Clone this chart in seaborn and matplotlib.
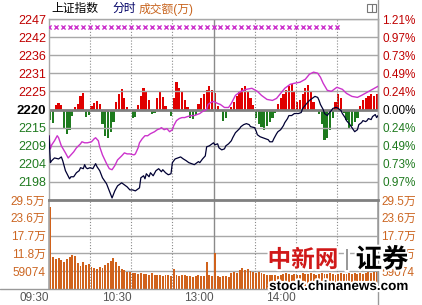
import matplotlib
matplotlib.use("Agg")
import matplotlib.pyplot as plt
import matplotlib.patheffects as pe
from matplotlib.patches import Rectangle
from matplotlib.lines import Line2D
import numpy as np
import pandas as pd
import seaborn as sns

# ---------------- data ----------------
prev_close = 2220.0
pct_step = 0.2424          # percent per grid step
price_tick_labels = ["2247", "2242", "2236", "2231", "2225", "2220", "2215", "2209", "2204", "2198"]
pct_tick_labels = ["1.21%", "0.97%", "0.73%", "0.49%", "0.24%", "0.00%", "0.24%", "0.49%", "0.73%", "0.97%"]
vol_tick_values = [5.9074, 11.8148, 17.7222, 23.6296, 29.537]   # unit: 万
vol_tick_labels = ["59074", "11.8万", "17.7万", "23.6万", "29.5万"]
time_minutes = [0, 60, 120, 180]
time_labels = ["09:30", "10:30", "13:00", "14:00"]

# 上证指数 (black line)
index_min = [0, 1, 2, 4, 7, 9, 10, 12, 15, 16, 18, 20, 22, 23, 25, 26, 27, 28, 30, 32,
             34, 35, 37, 39, 42, 44, 46, 48, 50, 53, 55, 57, 59, 61, 63, 66, 67, 69, 70, 71,
             73, 74, 76, 78, 80, 82, 83, 85, 87, 89, 90, 92, 94, 96, 98, 100, 102, 104, 106, 109,
             110, 112, 114, 115, 117, 120, 121, 123, 124, 126, 128, 129, 131, 133, 134, 136, 139, 140, 142, 144,
             146, 147, 150, 151, 152, 154, 156, 158, 160, 161, 163, 164, 166, 167, 169, 171, 172, 174, 175, 177,
             179, 180, 182, 184, 185, 188, 190, 193, 194, 196, 197, 198, 200, 201, 203, 204, 206, 207, 209, 210,
             212, 213, 214, 216, 217, 219, 220, 222, 223, 225, 226, 228, 229, 231, 232, 233, 235, 236, 238, 239, 240]
index_val = [2212.2, 2204.2, 2204.8, 2205.6, 2205.3, 2205.9, 2204.8, 2201.8, 2199.4, 2200.0,
             2200.0, 2201.2, 2201.8, 2202.7, 2202.4, 2203.6, 2202.7, 2202.4, 2202.7, 2202.4,
             2203.9, 2203.0, 2201.8, 2199.7, 2197.9, 2195.8, 2193.7, 2195.8, 2197.3, 2198.2,
             2197.6, 2197.0, 2196.1, 2196.1, 2195.8, 2196.7, 2199.7, 2200.3, 2199.4, 2200.9,
             2200.0, 2201.2, 2200.3, 2201.8, 2202.4, 2201.5, 2202.1, 2201.2, 2200.6, 2200.9,
             2204.2, 2205.3, 2205.6, 2205.9, 2205.3, 2204.8, 2204.2, 2203.9, 2203.6, 2204.5,
             2204.2, 2205.3, 2206.2, 2208.9, 2209.2, 2210.1, 2209.5, 2209.8, 2208.6, 2208.0,
             2208.3, 2209.2, 2209.8, 2210.7, 2211.6, 2213.1, 2214.3, 2214.9, 2215.5, 2215.8,
             2215.5, 2214.9, 2214.6, 2213.7, 2212.5, 2211.9, 2211.6, 2211.3, 2211.0, 2210.4,
             2210.4, 2211.3, 2212.8, 2213.4, 2214.0, 2215.2, 2216.1, 2217.3, 2218.2, 2218.2,
             2218.8, 2218.8, 2218.8, 2219.1, 2220.3, 2221.8, 2222.7, 2223.6, 2223.9, 2223.6,
             2222.7, 2221.5, 2220.0, 2218.8, 2218.2, 2218.8, 2219.7, 2220.3, 2220.6, 2220.6,
             2220.0, 2219.7, 2218.8, 2217.6, 2216.7, 2215.8, 2215.2, 2214.0, 2213.4, 2214.0,
             2215.5, 2216.1, 2216.7, 2216.4, 2216.7, 2217.3, 2217.0, 2217.9, 2218.5, 2217.6, 2218.2]

# leading index (magenta line)
lead_min = [0, 1, 2, 4, 6, 7, 9, 12, 14, 16, 18, 20, 23, 24, 26, 28, 31, 33, 34, 36,
            37, 39, 42, 44, 46, 48, 50, 53, 55, 57, 59, 62, 63, 65, 66, 68, 70, 72, 74, 77,
            79, 81, 82, 84, 86, 88, 90, 91, 93, 95, 97, 99, 101, 104, 106, 108, 110, 112, 115, 116,
            118, 120, 123, 125, 128, 131, 133, 136, 140, 144, 148, 152, 155, 159, 163, 166, 169, 172, 176, 179,
            183, 187, 190, 193, 196, 198, 200, 203, 206, 210, 214, 217, 221, 225, 228, 232, 236, 240]
lead_val = [2212.2, 2208.3, 2209.5, 2210.7, 2212.2, 2211.6, 2209.2, 2207.1, 2205.6, 2206.5,
            2207.4, 2208.6, 2209.8, 2210.4, 2210.1, 2210.1, 2210.4, 2211.3, 2211.6, 2210.7,
            2208.9, 2206.5, 2203.9, 2202.4, 2202.1, 2203.3, 2205.0, 2206.2, 2207.1, 2206.8,
            2206.8, 2206.5, 2206.8, 2208.6, 2210.1, 2211.3, 2212.2, 2212.2, 2212.8, 2213.4,
            2214.0, 2214.3, 2214.6, 2214.0, 2214.3, 2213.4, 2214.0, 2215.2, 2216.7, 2217.3,
            2217.6, 2217.6, 2217.9, 2218.2, 2218.2, 2218.5, 2218.8, 2219.4, 2220.0, 2221.5,
            2222.1, 2222.4, 2221.8, 2221.5, 2220.6, 2220.6, 2221.8, 2224.2, 2225.4, 2226.0,
            2226.3, 2225.4, 2224.2, 2223.0, 2222.7, 2223.3, 2224.8, 2226.3, 2227.5, 2227.8,
            2228.1, 2229.0, 2230.5, 2231.1, 2230.8, 2229.6, 2227.8, 2225.7, 2225.4, 2226.6,
            2226.0, 2224.8, 2223.9, 2223.6, 2224.2, 2225.1, 2226.0, 2226.9]

# red / green breadth bars (every 2 minutes)
bar_min = list(range(0, 240, 2))
breadth = [-10, -13, 5, 7, 5, -18, -24, -20, -6, 3,
           6, 14, 17, -7, -5, 4, 7, 9, 6, -14,
           -26, -28, -22, -12, 8, 16, 21, 12, 3, 0,
           -8, -7, 5, 14, 22, 18, 10, -4, -3, 12,
           19, 13, 4, 0, -6, 12, 28, 22, 18, 10,
           3, -8, -9, -5, 6, 12, 16, 20, 24, 20,
           17, 4, 0, -11, -8, 0, 3, 8, 14, 19,
           22, 24, 18, 12, 5, -8, -14, -17, -20, -16,
           -12, -8, -3, 6, 12, 16, 20, 24, 26, 18,
           8, 10, 16, 22, 25, 18, 8, 0, -4, -14,
           -30, -28, -20, -8, 8, 16, 12, -3, -10, -19,
           -16, -12, -8, 4, 10, 12, 14, 16, 14, 16]

# turnover (万), every 2 minutes
volume = [27.2, 10.5, 9.8, 10.2, 9.5, 9.0, 9.8, 10.6, 11.2, 11.0,
          8.5, 7.6, 8.8, 7.8, 8.2, 7.2, 7.0, 6.8, 7.4, 6.9,
          8.0, 8.6, 9.2, 10.2, 8.8, 7.5, 6.8, 6.3, 5.8, 5.6,
          5.4, 5.2, 5.0, 5.3, 5.1, 4.9, 4.7, 5.2, 4.8, 4.6,
          4.5, 4.4, 4.6, 4.5, 4.3, 6.5, 4.8, 4.4, 4.5, 4.6,
          4.2, 4.4, 4.1, 4.3, 4.5, 4.2, 4.4, 9.0, 4.6, 4.4,
          11.9, 4.3, 4.0, 4.2, 4.4, 4.1, 5.4, 5.6, 5.3, 6.4,
          7.0, 6.2, 6.5, 6.0, 5.8, 5.4, 5.6, 5.2, 5.0, 4.7,
          4.5, 4.8, 4.6, 4.4, 4.7, 4.9, 5.3, 5.1, 4.8, 5.0,
          4.6, 4.8, 5.2, 5.0, 4.9, 5.3, 5.1, 4.8, 5.0, 5.4,
          5.1, 4.9, 5.2, 5.0, 4.8, 5.1, 5.3, 5.0, 4.9, 5.2,
          5.0, 5.4, 5.1, 5.3, 5.0, 5.2, 5.5, 5.3, 5.6, 5.8]

cross_min = list(range(0, 211, 5))
cross_val = 2244.5

# ---------------- style ----------------
sns.set_theme(style="white")
plt.rcParams["font.family"] = ["Liberation Sans", "Noto Sans CJK SC", "DejaVu Sans"]

RED, GREEN, ORANGE = "#c00000", "#1f7a1f", "#cc6622"
GRID = "#a8a8a8"
W, H = 422, 305
x0, x1 = 49, 378
y_top, y_mid, y_bot = 19, 200, 289

fig = plt.figure(figsize=(W / 100, H / 100), dpi=100, facecolor="white")
ax = fig.add_axes([x0 / W, 1 - y_mid / H, (x1 - x0) / W, (y_mid - y_top) / H])
axv = fig.add_axes([x0 / W, 1 - y_bot / H, (x1 - x0) / W, (y_bot - y_mid) / H])

step = prev_close * pct_step / 100
price_ticks = [prev_close + k * step for k in range(5, -5, -1)]
price_lim = (prev_close - 5 * step, prev_close + 5 * step)

# breadth bars on a hidden twin below the price axes
axb = ax.twinx()
axb.set_zorder(1)
ax.set_zorder(2)
ax.patch.set_visible(False)
df_b = pd.DataFrame({"m": np.array(bar_min) + 1.0, "v": breadth})
df_b["sign"] = np.where(df_b["v"] >= 0, "up", "down")
sns.barplot(data=df_b, x="m", y="v", hue="sign", palette={"up": "#e00000", "down": "#1e7b1e"},
            native_scale=True, dodge=False, width=0.8, errorbar=None, saturation=1,
            legend=False, linewidth=0, ax=axb)
axb.set_ylim(-90.5, 90.5)
axb.set_yticks([])
axb.set_ylabel("")
for s in axb.spines.values():
    s.set_visible(False)

# grid on price panel
for k, t in enumerate(price_ticks):
    if k == 5:
        ax.axhline(t, color="#808080", lw=2, zorder=1)
    else:
        ax.axhline(t, color=GRID, lw=1, zorder=1)
for m in [30, 60, 90, 150, 180, 210]:
    ax.axvline(m, color="#8a8a8a", lw=0.8, ls=(0, (1, 1.6)), zorder=1)
ax.axvline(120, color="#8a8a8a", lw=1, zorder=1)

sns.lineplot(x=lead_min, y=lead_val, ax=ax, color="#cc33cc", lw=1, estimator=None, sort=False, zorder=3)
sns.lineplot(x=index_min, y=index_val, ax=ax, color="#000033", lw=0.9, estimator=None, sort=False, zorder=4)
sns.scatterplot(x=cross_min, y=[cross_val] * len(cross_min), ax=ax, marker="x", s=9,
                color="#cc33cc", linewidth=1, zorder=5)

ax.set_xlim(0, 240)
ax.set_ylim(*price_lim)
ax.set_yticks(price_ticks, price_tick_labels)
ax.set_xticks([])
ax.set_xlabel("")
ax.set_ylabel("")
ax.tick_params(axis="y", length=0, pad=2, labelsize=9)
for k, lbl in enumerate(ax.get_yticklabels()):
    lbl.set_color(RED if k < 5 else ("black" if k == 5 else GREEN))
    if k == 5:
        lbl.set_fontweight("bold")
        lbl.set_fontsize(9.5)
for side in ["left", "right", "top"]:
    ax.spines[side].set_color(GRID)
    ax.spines[side].set_linewidth(1)
ax.spines["bottom"].set_color("#808080")
ax.spines["bottom"].set_linewidth(2)

axr = ax.twinx()
axr.set_zorder(3)
axr.set_ylim(*price_lim)
axr.set_yticks(price_ticks, pct_tick_labels)
axr.tick_params(axis="y", length=0, pad=3, labelsize=8.5)
for k, lbl in enumerate(axr.get_yticklabels()):
    lbl.set_color(RED if k < 5 else ("black" if k == 5 else GREEN))
for s in axr.spines.values():
    s.set_visible(False)

# volume panel
for v in vol_tick_values[:-1]:
    axv.axhline(v, color=GRID, lw=1, zorder=0.5)
for m in [30, 60, 90, 150, 180, 210]:
    axv.axvline(m, color="#8a8a8a", lw=0.8, ls=(0, (1, 1.6)), zorder=0.5)
axv.axvline(120, color="#8a8a8a", lw=1, zorder=0.5)
df_v = pd.DataFrame({"m": np.array(bar_min) + 1.0, "v": volume})
sns.barplot(data=df_v, x="m", y="v", native_scale=True, color="#d0621c", saturation=1,
            width=0.7, errorbar=None, linewidth=0, ax=axv, zorder=2)
axv.set_xlim(0, 240)
axv.set_ylim(0, vol_tick_values[-1])
axv.set_yticks(vol_tick_values, vol_tick_labels)
axv.set_xticks(time_minutes, time_labels)
axv.set_xlabel("")
axv.set_ylabel("")
axv.tick_params(axis="y", length=0, pad=2.5, labelsize=8.5, labelcolor=ORANGE,
                labelleft=True, labelright=True)
axv.tick_params(axis="x", length=0, pad=2, labelsize=8.5, labelcolor="#555555")
for lbl in axv.get_xticklabels():
    lbl.set_ha("right")
axv.spines["top"].set_visible(False)
for side in ["left", "right"]:
    axv.spines[side].set_color(GRID)
axv.spines["bottom"].set_visible(False)

# frame lines spanning the figure
fig.add_artist(Line2D([x1 / W, x1 / W], [0, 1], transform=fig.transFigure, color="#999999", lw=1))
fig.add_artist(Line2D([0, x1 / W], [1 - y_bot / H] * 2, transform=fig.transFigure, color="#999999", lw=1))

# header
fig.text(51 / W, 1 - 9 / H, "上证指数", color="black", fontsize=8.5, va="center", ha="left")
fig.text(112 / W, 1 - 9 / H, "分时", color="#000066", fontsize=8.5, va="center", ha="left")
fig.text(139 / W, 1 - 9 / H, "成交额(万)", color="#c8641e", fontsize=8.5, va="center", ha="left")
fig.add_artist(Rectangle((367 / W, 1 - 12 / H), 9 / W, 8 / H, transform=fig.transFigure,
                         fill=False, ec="#777777", lw=0.8))
fig.add_artist(Line2D([371.5 / W] * 2, [1 - 12 / H, 1 - 4 / H], transform=fig.transFigure,
                      color="#777777", lw=0.8))

# watermark
halo = [pe.withStroke(linewidth=3, foreground="white")]
fig.text(303 / W, 1 - 260 / H, "中新网", color="#d01818", fontsize=17, fontweight="bold",
         ha="center", va="center", family=["Noto Sans CJK SC"], path_effects=halo)
fig.text(347 / W, 1 - 260 / H, "|", color="#999999", fontsize=16, ha="center", va="center",
         path_effects=halo)
fig.text(382 / W, 1 - 260 / H, "证券", color="black", fontsize=19, fontweight="bold",
         ha="center", va="center", family=["Noto Sans CJK SC"], path_effects=halo)
fig.text(339 / W, 1 - 287 / H, "stock.chinanews.com", color="black", fontsize=9.7,
         fontweight="bold", ha="center", va="center", path_effects=halo)

fig.savefig("out.png", dpi=100, facecolor="white")
